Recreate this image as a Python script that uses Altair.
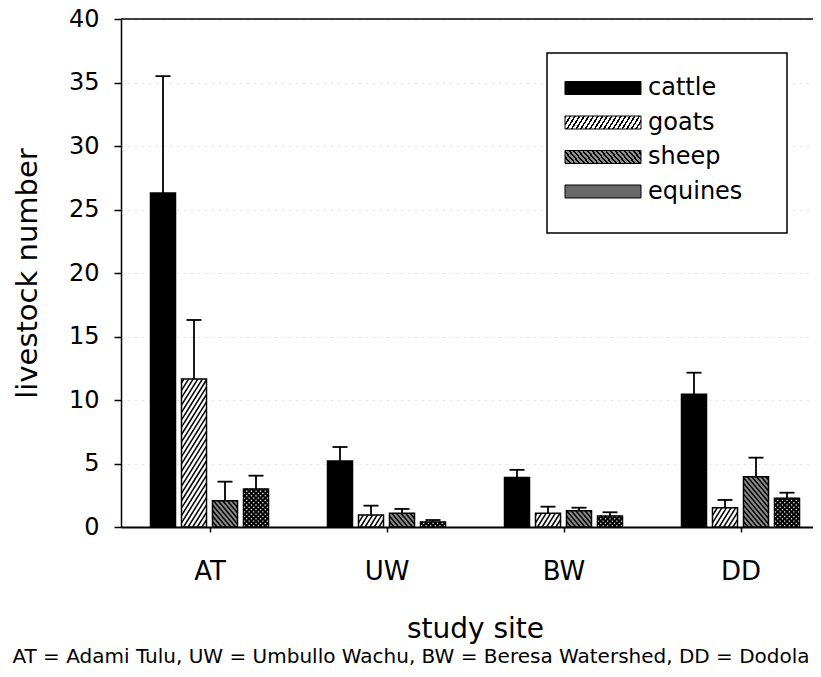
import math
import altair as alt
import pandas as pd

# ---------------- data ----------------
sites = ["AT", "UW", "BW", "DD"]
species = ["cattle", "goats", "sheep", "equines"]

cattle = [26.3, 5.2, 3.9, 10.45]
goats = [11.65, 0.95, 1.08, 1.52]
sheep = [2.07, 1.08, 1.28, 3.96]
equines = [3.0, 0.39, 0.87, 2.26]

cattle_se = [9.2, 1.1, 0.6, 1.7]
goats_se = [4.65, 0.73, 0.52, 0.61]
sheep_se = [1.5, 0.34, 0.24, 1.5]
equines_se = [1.04, 0.16, 0.29, 0.44]

y_ticks = [0, 5, 10, 15, 20, 25, 30, 35, 40]
y_title = "livestock number"
x_title = "study site"
caption = "AT = Adami Tulu, UW = Umbullo Wachu, BW = Beresa Watershed, DD = Dodola"

means = {"cattle": cattle, "goats": goats, "sheep": sheep, "equines": equines}
errs = {"cattle": cattle_se, "goats": goats_se, "sheep": sheep_se, "equines": equines_se}

rows = []
for si, s in enumerate(sites):
    for ji, sp in enumerate(species):
        rows.append({"site": s, "si": si, "species": sp, "ji": ji,
                     "value": means[sp][si], "se": errs[sp][si]})
df = pd.DataFrame(rows)

# ---------------- layout ----------------
FONT = "DejaVu Sans"
PAD_L, PAD_T = 113, 11
VIEW_W = 805 - PAD_L
BAND_PX = 177.0          # pixels per site band
PLOT_H = 508.0
TOTAL_H = 661
Y_PX = PLOT_H / 40.0     # pixels per y unit
STEP = 31.0 / BAND_PX    # distance between bars inside a group
BAR_W = 25.0 / BAND_PX   # bar width
CAP_W = 7.5 / BAND_PX    # half width of error cap

XS = alt.Scale(domain=[0, 4], range=[0, 4 * BAND_PX], nice=False, zero=False)
YS = alt.Scale(domain=[0, 40], nice=False, zero=True)

label_expr = "[" + ",".join("'%s'" % s for s in sites) + "][floor(datum.value)]"
XA = alt.Axis(values=[i + 0.5 for i in range(len(sites))], labelExpr=label_expr,
              grid=False, tickSize=5, tickWidth=1.5, tickColor="black",
              domainColor="black", domainWidth=2, labelFontSize=26,
              labelColor="black", labelBaseline="alphabetic", labelPadding=47,
              labelFlush=False, labelOverlap=False,
              titleFontSize=28, titleFontWeight="normal", titleColor="black",
              titleX=2 * BAND_PX, titleY=110, titleBaseline="alphabetic",
              titleAlign="center")
YA = alt.Axis(values=y_ticks, tickSize=7, tickWidth=1.5, tickColor="black",
              domainColor="black", domainWidth=1.5, labelFontSize=24,
              labelColor="black", labelPadding=15,
              grid=True, gridColor="#c4c4c4", gridDash=[1, 6], gridWidth=1,
              titleFontSize=29, titleFontWeight="normal", titleColor="black",
              titleX=-85, titleY=PLOT_H / 2, titleBaseline="alphabetic",
              titleAlign="center", titleAngle=270)


def X(f):
    return alt.X(f, scale=XS, axis=XA, title=x_title)


def Y(f):
    return alt.Y(f, scale=YS, axis=YA, title=y_title)


base = alt.Chart(df).transform_calculate(
    xc=f"datum.si + 0.5 + (datum.ji - 1.5) * {STEP}"
).transform_calculate(
    xl=f"datum.xc - {BAR_W / 2}",
    xr=f"datum.xc + {BAR_W / 2}",
    cl=f"datum.xc - {CAP_W}",
    cr=f"datum.xc + {CAP_W}",
    top="datum.value + datum.se",
)

base_fill = ["#000000", "#ffffff", "#8c8c8c", "#ffffff"]


# striped fill for the small legend swatches (76 x 13 px), as a Vega expression
def stripe_expr(angle_deg, spacing_px, line_px, fg, bg, backslash=False):
    sw, sh = 76.0, 13.0
    slope = math.tan(math.radians(angle_deg))
    b = sh / (sw * slope)
    L = 1.12
    x2, dy = L, L * b
    D2 = x2 * x2 + dy * dy
    alpha = x2 / (sw * D2)
    period = alpha * spacing_px
    frac = (line_px / math.sin(math.radians(angle_deg))) / spacing_px
    stops = []
    o = 0.0
    while o < 1.0 - 1e-6:
        e = min(1.0, o + period * frac)
        n = min(1.0, o + period)
        stops += [(o, fg), (e, fg), (e, bg), (n, bg)]
        o = n
    st = ",".join("{offset:%.4f,color:'%s'}" % (a, c) for a, c in stops)
    if backslash:
        y1, y2 = 1, round(1 - dy, 4)
    else:
        y1, y2 = 0, round(dy, 4)
    return "{gradient:'linear',x1:0,y1:%s,x2:%s,y2:%s,stops:[%s]}" % (y1, x2, y2, st)


goats_swatch = alt.ExprRef(expr=stripe_expr(58, 4.6, 1.5, "#000000", "#ffffff"))
sheep_swatch = alt.ExprRef(expr=stripe_expr(50, 4.6, 1.5, "#000000", "#8c8c8c", backslash=True))
legend_range = ["#000000", goats_swatch, sheep_swatch, "#6a6a6a"]

# layer that carries the legend (hidden under the real bars)
legend_layer = base.mark_rect().encode(
    x=X("xl:Q"), x2="xr:Q", y=Y("value:Q"), y2=alt.datum(0),
    color=alt.Color("species:N", sort=species,
                    scale=alt.Scale(domain=species, range=legend_range),
                    legend=alt.Legend(
                        title=None, orient="none", legendX=439, legendY=57,
                        symbolType="M-5.846,-1H5.846V1H-5.846Z", symbolSize=169,
                        symbolStrokeColor="black", symbolStrokeWidth=1,
                        symbolOffset=31, labelOffset=33, labelFontSize=24,
                        labelFont=FONT, labelColor="black", rowPadding=10.5,
                        padding=0)),
)

bars = base.mark_rect().encode(
    x=X("xl:Q"), x2="xr:Q", y=Y("value:Q"), y2=alt.datum(0),
    fill=alt.Fill("species:N", scale=alt.Scale(domain=species, range=base_fill),
                  legend=None),
)


def hatch(sp, direction, spacing_px, angle_deg, width, color="black"):
    t = math.tan(math.radians(angle_deg))
    rise = 25.0 * t / Y_PX
    d = spacing_px * t / Y_PX
    if direction == "/":
        hx1 = f"datum.xl + datum.ts * {BAR_W}"
        hx2 = f"datum.xl + datum.te * {BAR_W}"
    else:
        hx1 = f"datum.xr - datum.ts * {BAR_W}"
        hx2 = f"datum.xr - datum.te * {BAR_W}"
    return base.transform_filter(f"datum.species == '{sp}'").transform_calculate(
        n=f"ceil((datum.value + {rise}) / {d}) + 1"
    ).transform_calculate(
        k="sequence(0, datum.n)"
    ).transform_flatten(["k"]).transform_calculate(
        y0=f"datum.k * {d} - {rise}"
    ).transform_calculate(
        ts=f"max(0, -datum.y0 / {rise})",
        te=f"min(1, (datum.value - datum.y0) / {rise})",
    ).transform_filter("datum.ts < datum.te").transform_calculate(
        hx1=hx1, hx2=hx2,
        hy1=f"datum.y0 + datum.ts * {rise}",
        hy2=f"datum.y0 + datum.te * {rise}",
    ).mark_rule(color=color, strokeWidth=width, strokeCap="butt").encode(
        x=X("hx1:Q"), x2="hx2:Q", y=Y("hy1:Q"), y2="hy2:Q"
    )


hatch_goats = hatch("goats", "/", 4.6, 58, 1.5)
hatch_sheep = hatch("sheep", "\\", 4.6, 50, 1.5)
hatch_eq1 = hatch("equines", "/", 4.6, 45, 2.0)
hatch_eq2 = hatch("equines", "\\", 4.6, 45, 2.0)

outline = base.mark_rect(fillOpacity=0, stroke="black", strokeWidth=1.5).encode(
    x=X("xl:Q"), x2="xr:Q", y=Y("value:Q"), y2=alt.datum(0),
)

err_v = base.mark_rule(color="black", strokeWidth=1.8).encode(
    x=X("xc:Q"), y=Y("value:Q"), y2="top:Q"
)
err_cap = base.mark_rule(color="black", strokeWidth=1.8).encode(
    x=X("cl:Q"), x2="cr:Q", y=Y("top:Q")
)

# top frame line at the top of the value axis
top_frame = alt.Chart(pd.DataFrame({"a": [0]})).mark_rule(
    color="black", strokeWidth=1.5
).encode(y=alt.Y(datum=y_ticks[-1], scale=YS, axis=YA, title=y_title),
         x=alt.value(0), x2=alt.value(4 * BAND_PX))

legend_box = alt.Chart(pd.DataFrame({"a": [0]})).mark_rect(
    fill="white", stroke="black", strokeWidth=1.5
).encode(x=alt.value(426), x2=alt.value(666), y=alt.value(34), y2=alt.value(214))

cap_text = alt.Chart(pd.DataFrame({"t": [caption]})).mark_text(
    font=FONT, fontSize=20, align="center", baseline="alphabetic", color="black"
).encode(text="t:N", x=alt.value(290), y=alt.value(644))

chart = alt.layer(
    legend_layer, bars, hatch_goats, hatch_sheep, hatch_eq1, hatch_eq2,
    outline, err_v, err_cap, top_frame, legend_box, cap_text
).properties(
    width=VIEW_W, height=PLOT_H,
    autosize=alt.AutoSizeParams(type="none"),
    padding={"left": PAD_L, "top": PAD_T, "right": 0,
             "bottom": TOTAL_H - PAD_T - int(PLOT_H)},
).configure(font=FONT).configure_view(
    stroke=None
).configure_axis(labelFont=FONT, titleFont=FONT)

chart.save("out.html", embed_options={"renderer": "svg", "actions": False})
